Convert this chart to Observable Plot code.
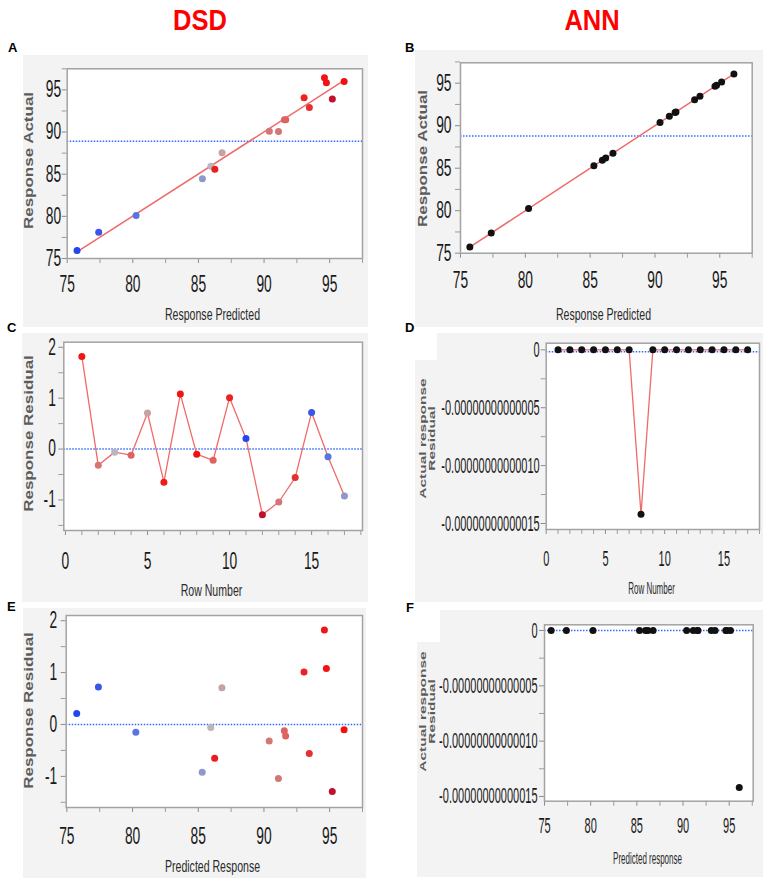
<!DOCTYPE html>
<html><head><meta charset="utf-8">
<script src="https://cdn.jsdelivr.net/npm/d3@7"></script>
<script src="https://cdn.jsdelivr.net/npm/@observablehq/plot@0.6"></script>
<style>
body{margin:0;background:#fff;}
#fig{position:relative;width:767px;height:883px;overflow:hidden;font-family:"Liberation Sans",Arial,sans-serif;}
.panel{position:absolute;}
.tag{position:absolute;font:bold 13px "Liberation Sans",Arial,sans-serif;color:#000;line-height:13px;}
.head{position:absolute;top:5px;width:120px;text-align:center;font:bold 30px "Liberation Sans",Arial,sans-serif;line-height:30px;color:#ff0000;transform:scaleX(0.85);}
.notch{position:absolute;background:#fff;}
</style></head><body><div id="fig"></div>
<script>
// ---------- data ----------
const rowNumber = [1,2,3,4,5,6,7,8,9,10,11,12,13,14,15,16,17];
const dsdPredicted = [94.6, 90.4, 85.95, 91.55, 86.8, 86.25, 94.75, 96.1, 91.65, 93.05, 75.75, 95.2, 91.1, 93.45, 77.4, 80.25, 85.3];
const dsdActual    = [96.45, 90.1, 85.95, 91.45, 87.55, 85.6, 95.85, 96.0, 91.45, 94.07, 75.96, 93.92, 90.07, 92.9, 78.1, 80.1, 84.45];
const dsdResidual  = [1.82, -0.32, -0.06, -0.12, 0.71, -0.65, 1.08, -0.10, -0.22, 1.01, 0.21, -1.29, -1.04, -0.56, 0.72, -0.15, -0.92];
const annPredicted = [94.63, 90.39, 85.94, 91.55, 86.76, 86.2, 94.75, 96.09, 91.62, 93.06, 75.72, 95.14, 91.11, 93.47, 77.37, 80.25, 85.29];
const annActual    = [94.63, 90.39, 85.94, 91.55, 86.76, 86.2, 94.75, 96.09, 91.62, 93.06, 75.72, 95.14, 91.11, 93.47, 77.37, 80.25, 85.29];
const annResidual  = [0, 0, 0, 0, 0, 0, 0, -1.42e-13, 0, 0, 0, 0, 0, 0, 0, 0, 0];
const meanActualDSD = 88.9;
const meanActualANN = 88.8;
// tick values
const responseTicks = [75, 80, 85, 90, 95];
const responseMinor = [77.5, 82.5, 87.5, 92.5, 97.5];
const residualTicks = [-1, 0, 1, 2];
const residualMinor = [-1.5, -0.5, 0.5, 1.5];
const rowTicks = [0, 5, 10, 15];
const rowMinor = [1, 2, 3, 4, 6, 7, 8, 9, 11, 12, 13, 14, 16, 17, 18];
const tinyTicks = [0, -5e-14, -1e-13, -1.5e-13];
const tinyMinor = [-2.5e-14, -7.5e-14, -1.25e-13];
// style: JMP row colours of the DSD points
const dsdPointColor = ["#f01414", "#d47676", "#b9b6be", "#dd6262", "#c6a2a2", "#ec1c1c", "#f01414", "#f01010", "#dd6262", "#ee2020", "#2446ee", "#c0102c", "#d27676", "#e63030", "#3a56e6", "#5a74e2", "#8f98c8"];

const dsd = rowNumber.map((r, i) => ({row: r, pred: dsdPredicted[i], actual: dsdActual[i], resid: dsdResidual[i], color: dsdPointColor[i]}));
const ann = rowNumber.map((r, i) => ({row: r, pred: annPredicted[i], actual: annActual[i], resid: annResidual[i]}));

const RED = "#f06a6a", BLUE = "#2f6bff", FONT = '"Liberation Sans", Arial, sans-serif';
const plainFormat = d => `${d}`;
const tinyFormat = d => d === 0 ? "0" : d.toFixed(14);

function panel(cfg) {
  const [bl, bt, br, bb] = cfg.box, [fl, ft, fr, fb] = cfg.frame;
  const fmx = (fl + fr) / 2, fmy = (ft + fb) / 2;
  const marks = [
    Plot.frame({fill: "white"}),
    Plot.axisX({ticks: cfg.xMinor, tickSize: 5, tickFormat: () => "", stroke: "#9c9c9c", label: null}),
    Plot.axisY({ticks: cfg.yMinor, tickSize: 5, tickFormat: () => "", stroke: "#9c9c9c", label: null}),
    Plot.axisX({ticks: cfg.xTicks, tickSize: 5, tickPadding: cfg.xPad, tickFormat: cfg.xFormat || plainFormat, fontSize: cfg.tickFont, stroke: "#8c8c8c", fill: "#1a1a1a", label: null}),
    Plot.axisY({ticks: cfg.yTicks, tickSize: 5, tickPadding: cfg.yPad, tickFormat: cfg.yFormat || plainFormat, fontSize: cfg.tickFont, stroke: "#8c8c8c", fill: "#1a1a1a", label: null}),
    ...cfg.marks,
    Plot.frame({stroke: "#a3a3a3", strokeWidth: 1.5}),
    Plot.text([cfg.xTitle], {text: d => d, frameAnchor: "bottom", textAnchor: "middle", dx: cfg.xTitleAt[0] - fmx, dy: cfg.xTitleAt[1] - fb, lineAnchor: "middle", fontSize: cfg.xTitleSize, fill: "#2b2b2b"}),
    Plot.text([cfg.yTitle], {text: d => d, frameAnchor: "left", textAnchor: "middle", rotate: -90, dx: cfg.yTitleAt[0] - fl, dy: cfg.yTitleAt[1] - fmy, lineAnchor: "middle", fontSize: cfg.yTitleSize, fontWeight: "bold", fill: "#5c5c5c", lineHeight: 1}),
  ];
  const svg = Plot.plot({
    width: br - bl, height: bb - bt,
    marginLeft: fl - bl, marginTop: ft - bt, marginRight: br - fr, marginBottom: bb - fb,
    x: {domain: cfg.xDomain}, y: {domain: cfg.yDomain},
    color: {type: "identity"},
    style: {background: "#f3f3f3", fontFamily: FONT, overflow: "visible"},
    marks
  });
  const sq = (sel, f) => svg.querySelectorAll(sel).forEach(t => {
    let tr = t.getAttribute("transform");
    if (!tr) { tr = `translate(${+t.getAttribute("x") || 0},${+t.getAttribute("y") || 0})`; t.removeAttribute("x"); t.removeAttribute("y"); }
    t.setAttribute("transform", tr + " " + f(tr));
  });
  sq('g[aria-label="x-axis tick label"] text', () => `scale(${cfg.tickScale},1)`);
  sq('g[aria-label="y-axis tick label"] text', () => `scale(${cfg.tickScale},1)`);
  sq('g[aria-label="text"] text', tr => tr.includes("rotate") ? `scale(1,${cfg.yTitleScale})` : `scale(${cfg.titleScale},1)`);
  svg.classList.add("panel");
  svg.style.left = bl + "px";
  svg.style.top = bt + "px";
  document.getElementById("fig").appendChild(svg);
}

const common = {tickFont: 23, tickScale: 0.6, xTitleSize: 16.5, titleScale: 0.64, yTitleSize: 17, yTitleScale: 0.7};
const R = 3.5;

// A
panel({...common, box: [23, 55, 368, 327], frame: [66.7, 68.3, 362, 258],
  xDomain: [75, 97.5], yDomain: [75, 97.5], xTicks: responseTicks, xMinor: responseMinor, yTicks: responseTicks, yMinor: responseMinor,
  xPad: 12, yPad: 1, xTitle: "Response Predicted", xTitleAt: [212, 314], yTitle: "Response Actual", yTitleAt: [29, 160],
  marks: [
    Plot.ruleY([meanActualDSD], {stroke: BLUE, strokeWidth: 1.5, strokeDasharray: "1.5 1.5"}),
    Plot.linearRegressionY(dsd, {x: "pred", y: "actual", stroke: RED, strokeWidth: 1.5, ci: 0}),
    Plot.dot(dsd, {x: "pred", y: "actual", r: R, fill: "color"})
  ]});
// B
panel({...common, box: [415, 50, 763, 327], frame: [460, 62.3, 751.7, 252.7],
  xDomain: [75, 97.5], yDomain: [75, 97.4], xTicks: responseTicks, xMinor: responseMinor, yTicks: responseTicks, yMinor: responseMinor,
  xPad: 13, yPad: 4, xTitle: "Response Predicted", xTitleAt: [603, 314], yTitle: "Response Actual", yTitleAt: [422.5, 158],
  marks: [
    Plot.ruleY([meanActualANN], {stroke: BLUE, strokeWidth: 1.5, strokeDasharray: "1.5 1.5"}),
    Plot.linearRegressionY(ann, {x: "pred", y: "actual", stroke: RED, strokeWidth: 1.5, ci: 0}),
    Plot.dot(ann, {x: "pred", y: "actual", r: R, fill: "#111"})
  ]});
// C
panel({...common, box: [22, 333, 368, 602], frame: [63.3, 341.7, 362, 530],
  xDomain: [-0.1, 18.1], yDomain: [-1.6, 2.1], xTicks: rowTicks, xMinor: rowMinor, yTicks: residualTicks, yMinor: residualMinor,
  xPad: 17, yPad: 3, xTitle: "Row Number", xTitleAt: [211, 590], yTitle: "Response Residual", yTitleAt: [29, 433],
  marks: [
    Plot.ruleY([0], {stroke: BLUE, strokeWidth: 1.5, strokeDasharray: "1.5 1.5"}),
    Plot.line(dsd, {x: "row", y: "resid", stroke: RED, strokeWidth: 1.3}),
    Plot.dot(dsd, {x: "row", y: "resid", r: R, fill: "color"})
  ]});
// D
panel({...common, tickScale: 0.5, titleScale: 0.5, xTitleSize: 16, yTitleSize: 15.5, yTitleScale: 0.62, tickFont: 22,
  box: [415, 333, 763, 602], frame: [545.7, 342.7, 759, 529],
  xDomain: [0, 18], yDomain: [-1.552e-13, 0.0575e-13], xTicks: rowTicks, xMinor: rowMinor, yTicks: tinyTicks, yMinor: tinyMinor, yFormat: tinyFormat,
  xPad: 16, yPad: 1.5, xTitle: "Row Number", xTitleAt: [651, 588], yTitle: "Actual response\nResidual", yTitleAt: [427, 438],
  marks: [
    Plot.ruleY([0], {stroke: BLUE, strokeWidth: 1.5, strokeDasharray: "1.5 1.5", dy: 2}),
    Plot.line(ann, {x: "row", y: "resid", stroke: RED, strokeWidth: 1.3}),
    Plot.dot(ann, {x: "row", y: "resid", r: R, fill: "#111"})
  ]});
// E
panel({...common, box: [23, 608, 366, 878], frame: [65.7, 615, 362, 807],
  xDomain: [74.95, 97.5], yDomain: [-1.6, 2.1], xTicks: responseTicks, xMinor: responseMinor, yTicks: residualTicks, yMinor: residualMinor,
  xPad: 15, yPad: 4, xTitle: "Predicted Response", xTitleAt: [212, 866], yTitle: "Response Residual", yTitleAt: [29, 710],
  marks: [
    Plot.ruleY([0], {stroke: BLUE, strokeWidth: 1.5, strokeDasharray: "1.5 1.5"}),
    Plot.dot(dsd, {x: "pred", y: "resid", r: R, fill: "color"})
  ]});
// F
panel({...common, tickScale: 0.5, titleScale: 0.5, xTitleSize: 16, yTitleSize: 15.5, yTitleScale: 0.62, tickFont: 22,
  box: [417, 610, 763, 877], frame: [544, 624.3, 752.7, 800.7],
  xDomain: [75, 97.6], yDomain: [-1.543e-13, 0.0515e-13], xTicks: responseTicks, xMinor: responseMinor, yTicks: tinyTicks, yMinor: tinyMinor, yFormat: tinyFormat,
  xPad: 11, yPad: 2, xTitle: "Predicted response", xTitleAt: [647, 858], yTitle: "Actual response\nResidual", yTitleAt: [427, 711],
  marks: [
    Plot.ruleY([0], {stroke: BLUE, strokeWidth: 1.5, strokeDasharray: "1.5 1.5"}),
    Plot.dot(ann, {x: "pred", y: "resid", r: R, fill: "#111"})
  ]});

// headings, panel tags, white notches
const fig = document.getElementById("fig");
function addDiv(cls, text, left, top, w, h) {
  const d = document.createElement("div");
  d.className = cls; d.textContent = text || "";
  d.style.left = left + "px"; d.style.top = top + "px";
  if (w) d.style.width = w + "px";
  if (h) d.style.height = h + "px";
  fig.appendChild(d);
}
addDiv("notch", "", 415, 333, 22, 27);
addDiv("notch", "", 417, 610, 23, 32);
addDiv("head", "DSD", 200 - 60, 5);
addDiv("head", "ANN", 592 - 60, 5);
addDiv("tag", "A", 8, 41);
addDiv("tag", "B", 405, 41);
addDiv("tag", "C", 7, 321);
addDiv("tag", "D", 405, 321);
addDiv("tag", "E", 7, 600);
addDiv("tag", "F", 406, 601);
</script></body></html>
